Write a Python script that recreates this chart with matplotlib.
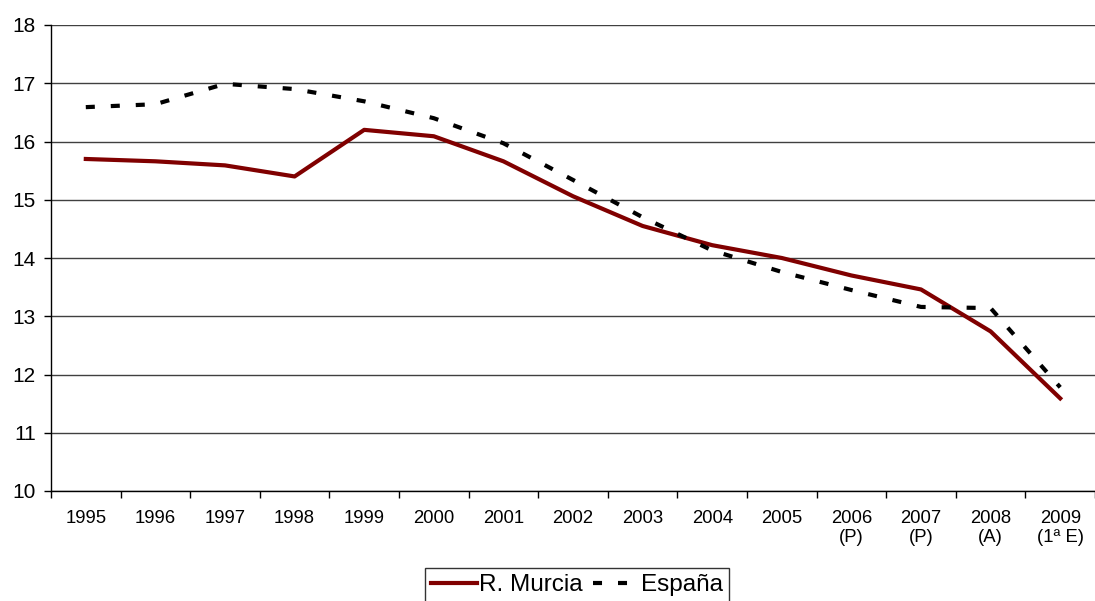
import matplotlib
matplotlib.use("Agg")
import matplotlib.pyplot as plt
from matplotlib.ticker import FixedLocator

plt.rcParams['font.family'] = ['Liberation Sans', 'DejaVu Sans']
plt.rcParams['lines.scale_dashes'] = False

categories = ["1995", "1996", "1997", "1998", "1999", "2000", "2001", "2002",
              "2003", "2004", "2005", "2006\n(P)", "2007\n(P)", "2008\n(A)", "2009\n(1ª E)"]
murcia = [15.70, 15.66, 15.59, 15.40, 16.20, 16.09, 15.66, 15.06,
          14.55, 14.22, 14.00, 13.70, 13.46, 12.74, 11.59]
espana = [16.59, 16.64, 16.99, 16.90, 16.69, 16.40, 15.97, 15.34,
          14.70, 14.13, 13.76, 13.45, 13.16, 13.14, 11.78]
yticks = [10, 11, 12, 13, 14, 15, 16, 17, 18]

fig = plt.figure(figsize=(10.95, 6.01), dpi=100)
ax = fig.add_axes([51 / 1095, 1 - 491 / 601, 1 - 51 / 1095, (491 - 25) / 601])

x = list(range(len(categories)))
ax.plot(x, murcia, color='#800000', linewidth=3.0, solid_joinstyle='round',
        label='R. Murcia', zorder=3)
ax.plot(x, espana, color='black', linewidth=3.0, linestyle=(0, (6.5, 11.5)),
        dash_capstyle='butt', label='España', zorder=4)

ax.set_xlim(-0.5, len(categories) - 0.5)
ax.set_ylim(10, 18)
ax.set_yticks(yticks)
ax.set_yticklabels([str(v) for v in yticks])
ax.yaxis.grid(True, color='#404040', linewidth=1.0)
ax.set_axisbelow(True)

ax.set_xticks(x)
ax.set_xticklabels(categories, linespacing=1.2)
ax.xaxis.set_minor_locator(FixedLocator([i - 0.5 for i in range(len(categories) + 1)]))
ax.tick_params(axis='x', which='major', length=0, pad=13.5, labelsize=13.3)
ax.tick_params(axis='x', which='minor', length=5, width=1, color='black')
ax.tick_params(axis='y', which='major', length=5, width=1, pad=6, labelsize=15, color='black')

for side in ['top', 'right']:
    ax.spines[side].set_visible(False)
for side in ['left', 'bottom']:
    ax.spines[side].set_color('black')
    ax.spines[side].set_linewidth(1.0)

leg = fig.legend(loc='upper center', bbox_to_anchor=(577 / 1095, 1 - 568 / 601),
                 ncol=2, fontsize=17.5, frameon=True, fancybox=False,
                 edgecolor='black', handlelength=1.9, handletextpad=0.1,
                 columnspacing=0.4, borderpad=0.25, borderaxespad=0)
leg.get_frame().set_linewidth(1.0)

fig.savefig('out.png', dpi=100)
